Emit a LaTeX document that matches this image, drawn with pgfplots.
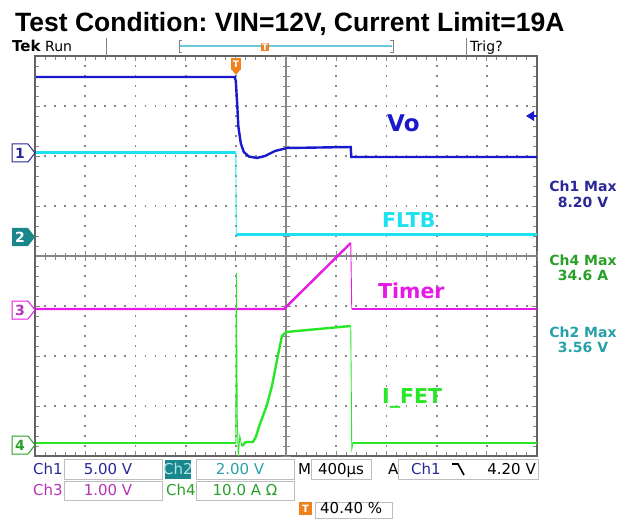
\documentclass[border=0pt]{standalone}
\usepackage{pgfplots}
\pgfplotsset{compat=1.18}
\usepackage{fontspec}
\setmainfont{DejaVu Sans}
\newfontfamily\titlefont{Liberation Sans}
\frenchspacing
\definecolor{cA}{RGB}{25,25,205}
\definecolor{cAt}{RGB}{40,40,150}
\definecolor{cB}{RGB}{30,225,240}
\definecolor{cBt}{RGB}{40,160,170}
\definecolor{cBd}{RGB}{25,135,140}
\definecolor{cBl}{RGB}{170,230,235}
\definecolor{cBar}{RGB}{110,200,220}
\definecolor{cC}{RGB}{230,25,230}
\definecolor{cCt}{RGB}{180,50,180}
\definecolor{cD}{RGB}{40,230,40}
\definecolor{cDt}{RGB}{40,160,40}
\definecolor{gridc}{RGB}{135,135,135}
\definecolor{framec}{RGB}{100,100,100}
\definecolor{tor}{RGB}{240,130,30}
\definecolor{boxc}{RGB}{190,190,190}
\newcommand{\fs}[1]{\fontsize{#1bp}{#1bp}\selectfont}
\begin{document}
\begin{tikzpicture}
\begin{scope}[x=1bp,y=-1bp]
\path[use as bounding box] (0,0) rectangle (629,515);
\end{scope}
% frame + grid
\begin{axis}[at={(35bp,-456bp)}, anchor=south west, scale only axis,
  width=502bp, height=400bp, xmin=-5, xmax=5, ymin=-4, ymax=4,
  xtick={-5,...,5}, ytick={-4,...,4}, minor x tick num=4, minor y tick num=4,
  xticklabels={}, yticklabels={}, tick align=inside,
  major tick length=5bp, minor tick length=4bp,
  every tick/.style={gridc, line width=1bp},
  grid=major,
  x grid style={gridc, line width=1.8bp, dash pattern=on 1.8bp off 8.2bp, dash phase=0.9bp},
  y grid style={gridc, line width=1.8bp, dash pattern=on 1.8bp off 8.24bp, dash phase=0.9bp},
  axis line style={framec, line width=1.2bp}]
\addplot[draw=none] coordinates {(0,0)};
\end{axis}
% center cross
\begin{axis}[at={(35bp,-456bp)}, anchor=south west, scale only axis,
  width=502bp, height=400bp, xmin=-5, xmax=5, ymin=-4, ymax=4,
  axis lines=center, axis line style={-, gridc, line width=1.1bp},
  xtick={-5,...,5}, ytick={-4,...,4}, minor x tick num=4, minor y tick num=4,
  xticklabels={}, yticklabels={}, tick align=center,
  major tick length=10bp, minor tick length=7bp,
  every tick/.style={gridc, line width=1bp}]
\addplot[draw=none] coordinates {(0,0)};
\end{axis}
% traces
\begin{axis}[at={(35bp,-456bp)}, anchor=south west, scale only axis,
  width=502bp, height=400bp, xmin=-5, xmax=5, ymin=-4, ymax=4, hide axis, clip=false]
% Vo (Ch1)
\addplot[cA, line width=2.4bp] coordinates {(-5,3.58) (-1.02,3.58) (-1.0,3.5) (-0.97,3.0) (-0.95,2.6) (-0.9,2.25) (-0.84,2.08) (-0.74,1.99) (-0.58,1.96) (-0.42,2.0) (-0.22,2.1) (0.02,2.16) (1.29,2.18) (1.30,1.98) (5,1.98)};
% FLTB (Ch2)
\addplot[cB, line width=2.4bp] coordinates {(-5,2.07) (-1.0,2.07)};
\addplot[cB, line width=0.9bp] coordinates {(-1.0,2.07) (-0.99,0.43)};
\addplot[cB, line width=2.4bp] coordinates {(-0.99,0.43) (5,0.43)};
% Timer (Ch3)
\addplot[cC, line width=2.4bp] coordinates {(-5,-1.06) (-0.04,-1.06) (1.29,0.26)};
\addplot[cC, line width=0.9bp] coordinates {(1.29,0.26) (1.31,-1.06)};
\addplot[cC, line width=2.4bp] coordinates {(1.31,-1.06) (5,-1.06)};
% I_FET (Ch4)
\addplot[cD, line width=2.4bp] coordinates {(-5,-3.74) (-1.0,-3.74)};
\addplot[cD, line width=0.9bp] coordinates {(-1.0,-3.74) (-0.99,-0.34) (-0.97,-3.3) (-0.95,-4.0) (-0.92,-3.6) (-0.88,-3.8)};
\addplot[cD, line width=2.4bp] coordinates {(-0.88,-3.8) (-0.8,-3.72) (-0.66,-3.72) (-0.6,-3.62) (-0.54,-3.42) (-0.46,-3.2) (-0.38,-2.98) (-0.28,-2.6) (-0.18,-2.08) (-0.08,-1.6) (0.0,-1.52) (1.29,-1.40)};
\addplot[cD, line width=0.9bp] coordinates {(1.29,-1.40) (1.31,-3.86) (1.34,-3.72)};
\addplot[cD, line width=2.4bp] coordinates {(1.34,-3.74) (5,-3.74)};
\end{axis}
\begin{scope}[x=1bp,y=-1bp]
\draw[framec, line width=2.5bp] (35,56) -- (35,456);
% title
\node[anchor=base west, inner sep=0] at (15,32) {\titlefont\bfseries\fs{26.5}Test Condition: VIN=12V, Current Limit=19A};
% top bar
\node[anchor=base west, inner sep=0] at (12,52) {\fs{15}\bfseries Tek};
\node[anchor=base west, inner sep=0] at (45,52) {\fs{14}Run};
\node[anchor=base west, inner sep=0] at (470,52) {\fs{14}Trig?};
\draw[gray, line width=0.8bp] (106,38) -- (106,56);
\draw[gray, line width=0.8bp] (466,38) -- (466,56);
\draw[gray, line width=0.8bp] (182,40) -- (179,40) -- (179,52) -- (182,52);
\draw[gray, line width=0.8bp] (390,40) -- (393,40) -- (393,52) -- (390,52);
\draw[cBar, line width=2.6bp] (180,46) -- (392,46);
\node[fill=tor, text=white, inner sep=1bp, font=\fs{9}\bfseries] at (265,47) {T};
% trigger marker
\fill[tor] (231,58) rectangle (241,70);
\fill[tor] (232,70) -- (240,70) -- (236,75) -- cycle;
\node[text=white, inner sep=0, font=\fs{9}\bfseries] at (236,64) {T};
% ch1 offset arrow at right
\fill[cA] (526,116) -- (534,111) -- (534,121) -- cycle;
\draw[cA, line width=1.2bp] (533,116) -- (537,116);
% trace labels
\node[anchor=base west, inner sep=0, text=cA] at (387,132) {\fs{23}\bfseries Vo};
\node[anchor=base west, inner sep=0, text=cB] at (382,228) {\fs{20.5}\bfseries FLTB};
\node[anchor=base west, inner sep=0, text=cC] at (378,298) {\fs{20.5}\bfseries Timer};
\node[anchor=base west, inner sep=0, text=cD] at (382,403) {\fs{20.5}\bfseries I\_FET};
% right readouts
\node[anchor=base, inner sep=0, text=cAt] at (583,192) {\fs{14}\bfseries Ch1 Max};
\node[anchor=base, inner sep=0, text=cAt] at (583,208) {\fs{14}\bfseries 8.20 V};
\node[anchor=base, inner sep=0, text=cDt] at (583,265) {\fs{14}\bfseries Ch4 Max};
\node[anchor=base, inner sep=0, text=cDt] at (583,280) {\fs{14}\bfseries 34.6 A};
\node[anchor=base, inner sep=0, text=cBt] at (583,337) {\fs{14}\bfseries Ch2 Max};
\node[anchor=base, inner sep=0, text=cBt] at (583,352) {\fs{14}\bfseries 3.56 V};
% left channel markers
\draw[cAt, line width=1bp, fill=white] (12,144) -- (28,144) -- (35,153) -- (28,162) -- (12,162) -- cycle;
\node[text=cAt, inner sep=0, font=\fs{14}\bfseries] at (20,153) {1};
\fill[cBd] (12,228) -- (28,228) -- (35,237) -- (28,246) -- (12,246) -- cycle;
\node[text=white, inner sep=0, font=\fs{14}\bfseries] at (20,237) {2};
\draw[cC, line width=1bp, fill=white] (12,301) -- (28,301) -- (35,310) -- (28,319) -- (12,319) -- cycle;
\node[text=cCt, inner sep=0, font=\fs{14}\bfseries] at (20,310) {3};
\draw[cDt, line width=1bp, fill=white] (12,436) -- (28,436) -- (35,445) -- (28,454) -- (12,454) -- cycle;
\node[text=cDt, inner sep=0, font=\fs{14}\bfseries] at (20,445) {4};
% bottom readouts row 1
\node[anchor=base west, inner sep=0, text=cAt] at (33,474) {\fs{15}Ch1};
\draw[boxc, line width=1bp] (64,459) rectangle (162,479);
\node[anchor=base, inner sep=0, text=cAt] at (108,474) {\fs{15}5.00 V};
\fill[cBd] (165,460) rectangle (191,479);
\node[anchor=base, inner sep=0, text=cBl] at (178,474) {\fs{15}Ch2};
\draw[boxc, line width=1bp] (196,459) rectangle (294,479);
\node[anchor=base, inner sep=0, text=cBt] at (240,474) {\fs{15}2.00 V};
\node[anchor=base west, inner sep=0] at (298,474) {\fs{15}M};
\draw[boxc, line width=1bp] (311,459) rectangle (371,479);
\node[anchor=base, inner sep=0] at (341,474) {\fs{15}400µs};
\node[anchor=base west, inner sep=0] at (388,474) {\fs{15}A};
\draw[boxc, line width=1bp] (398,459) rectangle (538,479);
\node[anchor=base west, inner sep=0, text=cAt] at (411,474) {\fs{15}Ch1};
\draw[black, line width=1.6bp] (452,464) -- (458,464) -- (464,475);
\node[anchor=base east, inner sep=0] at (536,474) {\fs{15}4.20 V};
% row 2
\node[anchor=base west, inner sep=0, text=cCt] at (33,495) {\fs{15}Ch3};
\draw[boxc, line width=1bp] (64,481) rectangle (162,500);
\node[anchor=base, inner sep=0, text=cCt] at (108,495) {\fs{15}1.00 V};
\node[anchor=base west, inner sep=0, text=cDt] at (166,495) {\fs{15}Ch4};
\draw[boxc, line width=1bp] (196,481) rectangle (294,500);
\node[anchor=base, inner sep=0, text=cDt] at (245,495) {\fs{15}10.0 A Ω};
% row 3
\fill[tor] (299,502) rectangle (312,515);
\node[text=white, inner sep=0, font=\fs{10}\bfseries] at (305.5,508.5) {T};
\draw[boxc, line width=1bp] (315,502) rectangle (392,518);
\node[anchor=base west, inner sep=0] at (320,513) {\fs{15}40.40 \%};
\end{scope}
\end{tikzpicture}
\end{document}
